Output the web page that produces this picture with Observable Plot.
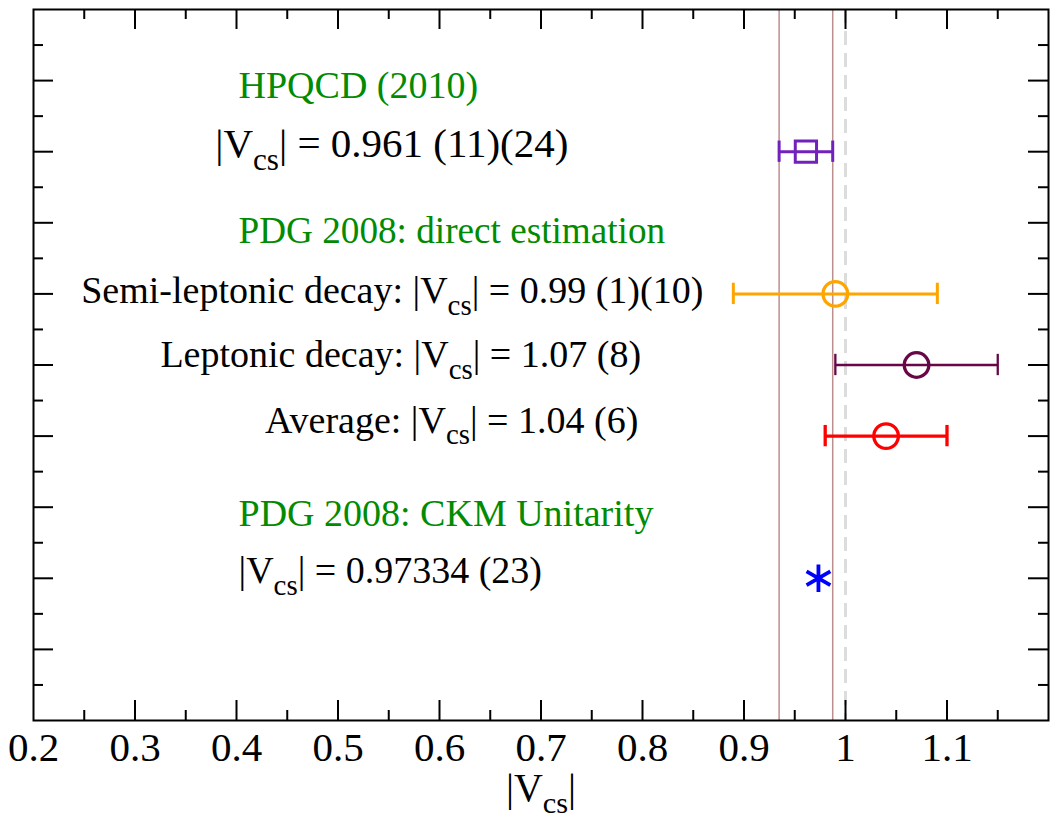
<!DOCTYPE html>
<html><head><meta charset="utf-8">
<script src="https://cdn.jsdelivr.net/npm/d3@7"></script>
<script src="https://cdn.jsdelivr.net/npm/@observablehq/plot@0.6"></script>
<style>body{margin:0;background:#fff;} svg{display:block}</style>
</head><body><div id="chart"></div>
<script>
// ---- data ----
const measures = ["HPQCD (2010)", "Semi-leptonic decay", "Leptonic decay", "Average", "CKM Unitarity"];
const rowY     = [8, 6, 5, 4, 2];
const central  = [0.961, 0.99, 1.07, 1.04, 0.97334];
const errStat  = [0.011, 0.01, 0.08, 0.06, 0.00023];
const errSyst  = [0.024, 0.10, 0, 0, 0];

const labelText = [
  "HPQCD (2010)",
  "|Vcs| = 0.961 (11)(24)",
  "PDG 2008: direct estimation",
  "Semi-leptonic decay: |Vcs| = 0.99 (1)(10)",
  "Leptonic decay: |Vcs| = 1.07 (8)",
  "Average: |Vcs| = 1.04 (6)",
  "PDG 2008: CKM Unitarity",
  "|Vcs| = 0.97334 (23)"
];
const labelKind = ["heading", "value", "heading", "value", "value", "value", "heading", "value"];
const labelX = [0.402, 0.379, 0.402, 0.247, 0.325, 0.428, 0.402, 0.402];
const labelY = [8.76, 7.92, 6.72, 5.87, 4.97, 4.05, 2.74, 1.93];

const xTickLabels = [0.2, 0.3, 0.4, 0.5, 0.6, 0.7, 0.8, 0.9, 1.0, 1.1];
const xMajorTicks = [0.3, 0.4, 0.5, 0.6, 0.7, 0.8, 0.9, 1.0, 1.1];
const xMinorTicks = [0.25, 0.35, 0.45, 0.55, 0.65, 0.75, 0.85, 0.95, 1.05, 1.15];
const yMajorTicks = [1, 2, 3, 4, 5, 6, 7, 8, 9];
const yMinorTicks = [0.5, 1.5, 2.5, 3.5, 4.5, 5.5, 6.5, 7.5, 8.5, 9.5];
const xLabel = "|Vcs|";

// ---- styles ----
const seriesStyle = {
  "HPQCD (2010)":        {color: "#7221bc", bar: 3,   symbol: "square",   r: 12,   sw: 3},
  "Semi-leptonic decay": {color: "#ffa500", bar: 3,   symbol: "circle",   r: 12.3, sw: 3.3},
  "Leptonic decay":      {color: "#670748", bar: 2.3, symbol: "circle",   r: 12.3, sw: 3.3},
  "Average":             {color: "#ff0000", bar: 3.3, symbol: "circle",   r: 12.3, sw: 3.3},
  "CKM Unitarity":       {color: "#0000ff", bar: 0,   symbol: "asterisk", r: 13,   sw: 3.8}
};
const kindColor = {heading: "#008b00", value: "#000000"};
const sizeOverride = {"|Vcs| = 0.961 (11)(24)": 41, "PDG 2008: direct estimation": 37.2};

const W = 1051, H = 823;
const M = {top: 9, right: 3, bottom: 103, left: 33};
const innerW = W - M.left - M.right;
const innerH = H - M.top - M.bottom;
const MAJOR = 20, MINOR = 10;
const CAP = 0.15;

const rows = measures.map((name, i) => {
  const tot = Math.hypot(errStat[i], errSyst[i]);
  return {name, y: rowY[i], v: central[i], lo: central[i] - tot, hi: central[i] + tot};
});
const labels = labelText.map((text, i) => ({text, kind: labelKind[i], x: labelX[i], y: labelY[i]}));
const hp = rows[0];
const band = [hp.lo, hp.hi];

const marks = [
  Plot.ruleX([1], {stroke: "#dcdcdc", strokeWidth: 3, strokeDasharray: "14,8"}),
  Plot.ruleX(band, {stroke: "#bc8f8f", strokeWidth: 1.5})
];
for (const r of rows) {
  const st = seriesStyle[r.name];
  if (st.bar > 0) {
    marks.push(
      Plot.ruleY([r], {y: "y", x1: "lo", x2: "hi", stroke: st.color, strokeWidth: st.bar}),
      Plot.ruleX([r], {x: "lo", y1: d => d.y - CAP, y2: d => d.y + CAP, stroke: st.color, strokeWidth: st.bar}),
      Plot.ruleX([r], {x: "hi", y1: d => d.y - CAP, y2: d => d.y + CAP, stroke: st.color, strokeWidth: st.bar})
    );
  }
  marks.push(Plot.dot([r], {x: "v", y: "y", symbol: st.symbol, r: st.r, stroke: st.color, strokeWidth: st.sw, fill: "none"}));
}
for (const kind of ["heading", "value"]) {
  marks.push(Plot.text(labels.filter(d => d.kind === kind), {
    x: "x", y: "y", text: "text", textAnchor: "start", lineAnchor: "bottom",
    fill: kindColor[kind], fontSize: d => sizeOverride[d.text] ?? 38
  }));
}
marks.push(
  Plot.frame({stroke: "black", strokeWidth: 2}),
  Plot.tickX(xMajorTicks, {x: d => d, insetTop: innerH - MAJOR, stroke: "black", strokeWidth: 2}),
  Plot.tickX(xMinorTicks, {x: d => d, insetTop: innerH - MINOR, stroke: "black", strokeWidth: 2}),
  Plot.tickX(xMajorTicks, {x: d => d, insetBottom: innerH - MAJOR, stroke: "black", strokeWidth: 2}),
  Plot.tickX(xMinorTicks, {x: d => d, insetBottom: innerH - MINOR, stroke: "black", strokeWidth: 2}),
  Plot.tickY(yMajorTicks, {y: d => d, insetRight: innerW - MAJOR, stroke: "black", strokeWidth: 2}),
  Plot.tickY(yMinorTicks, {y: d => d, insetRight: innerW - MINOR, stroke: "black", strokeWidth: 2}),
  Plot.tickY(yMajorTicks, {y: d => d, insetLeft: innerW - MAJOR, stroke: "black", strokeWidth: 2}),
  Plot.tickY(yMinorTicks, {y: d => d, insetLeft: innerW - MINOR, stroke: "black", strokeWidth: 2}),
  Plot.axisX(xTickLabels, {anchor: "bottom", tickSize: 0, tickPadding: 11, fontSize: 41, tickFormat: d3.format("~g"), label: null}),
  Plot.text([xLabel], {text: d => d, frameAnchor: "bottom", dy: 80, lineAnchor: "bottom", textAnchor: "middle", fontSize: 40, fill: "black"})
);

const chart = Plot.plot({
  width: W, height: H,
  marginTop: M.top, marginRight: M.right, marginBottom: M.bottom, marginLeft: M.left,
  x: {domain: [0.2, 1.2]},
  y: {domain: [0, 10], axis: null},
  style: {fontFamily: "'Liberation Serif', 'Times New Roman', serif", background: "white", color: "black"},
  marks
});
document.getElementById("chart").append(chart);

// subscript "cs" in |Vcs|
const NS = "http://www.w3.org/2000/svg";
chart.querySelectorAll("text").forEach(t => {
  const s = t.textContent;
  const i = s.indexOf("Vcs");
  if (i < 0) return;
  const fs = parseFloat(getComputedStyle(t).fontSize);
  t.textContent = "";
  const mk = (str, attrs = {}) => {
    const e = document.createElementNS(NS, "tspan");
    e.textContent = str;
    for (const k in attrs) e.setAttribute(k, attrs[k]);
    t.appendChild(e);
  };
  mk(s.slice(0, i + 1));
  mk("cs", {"font-size": fs * 0.76, dy: fs * 0.31});
  mk(s.slice(i + 3), {dy: -fs * 0.31});
});
</script>
</body></html>
